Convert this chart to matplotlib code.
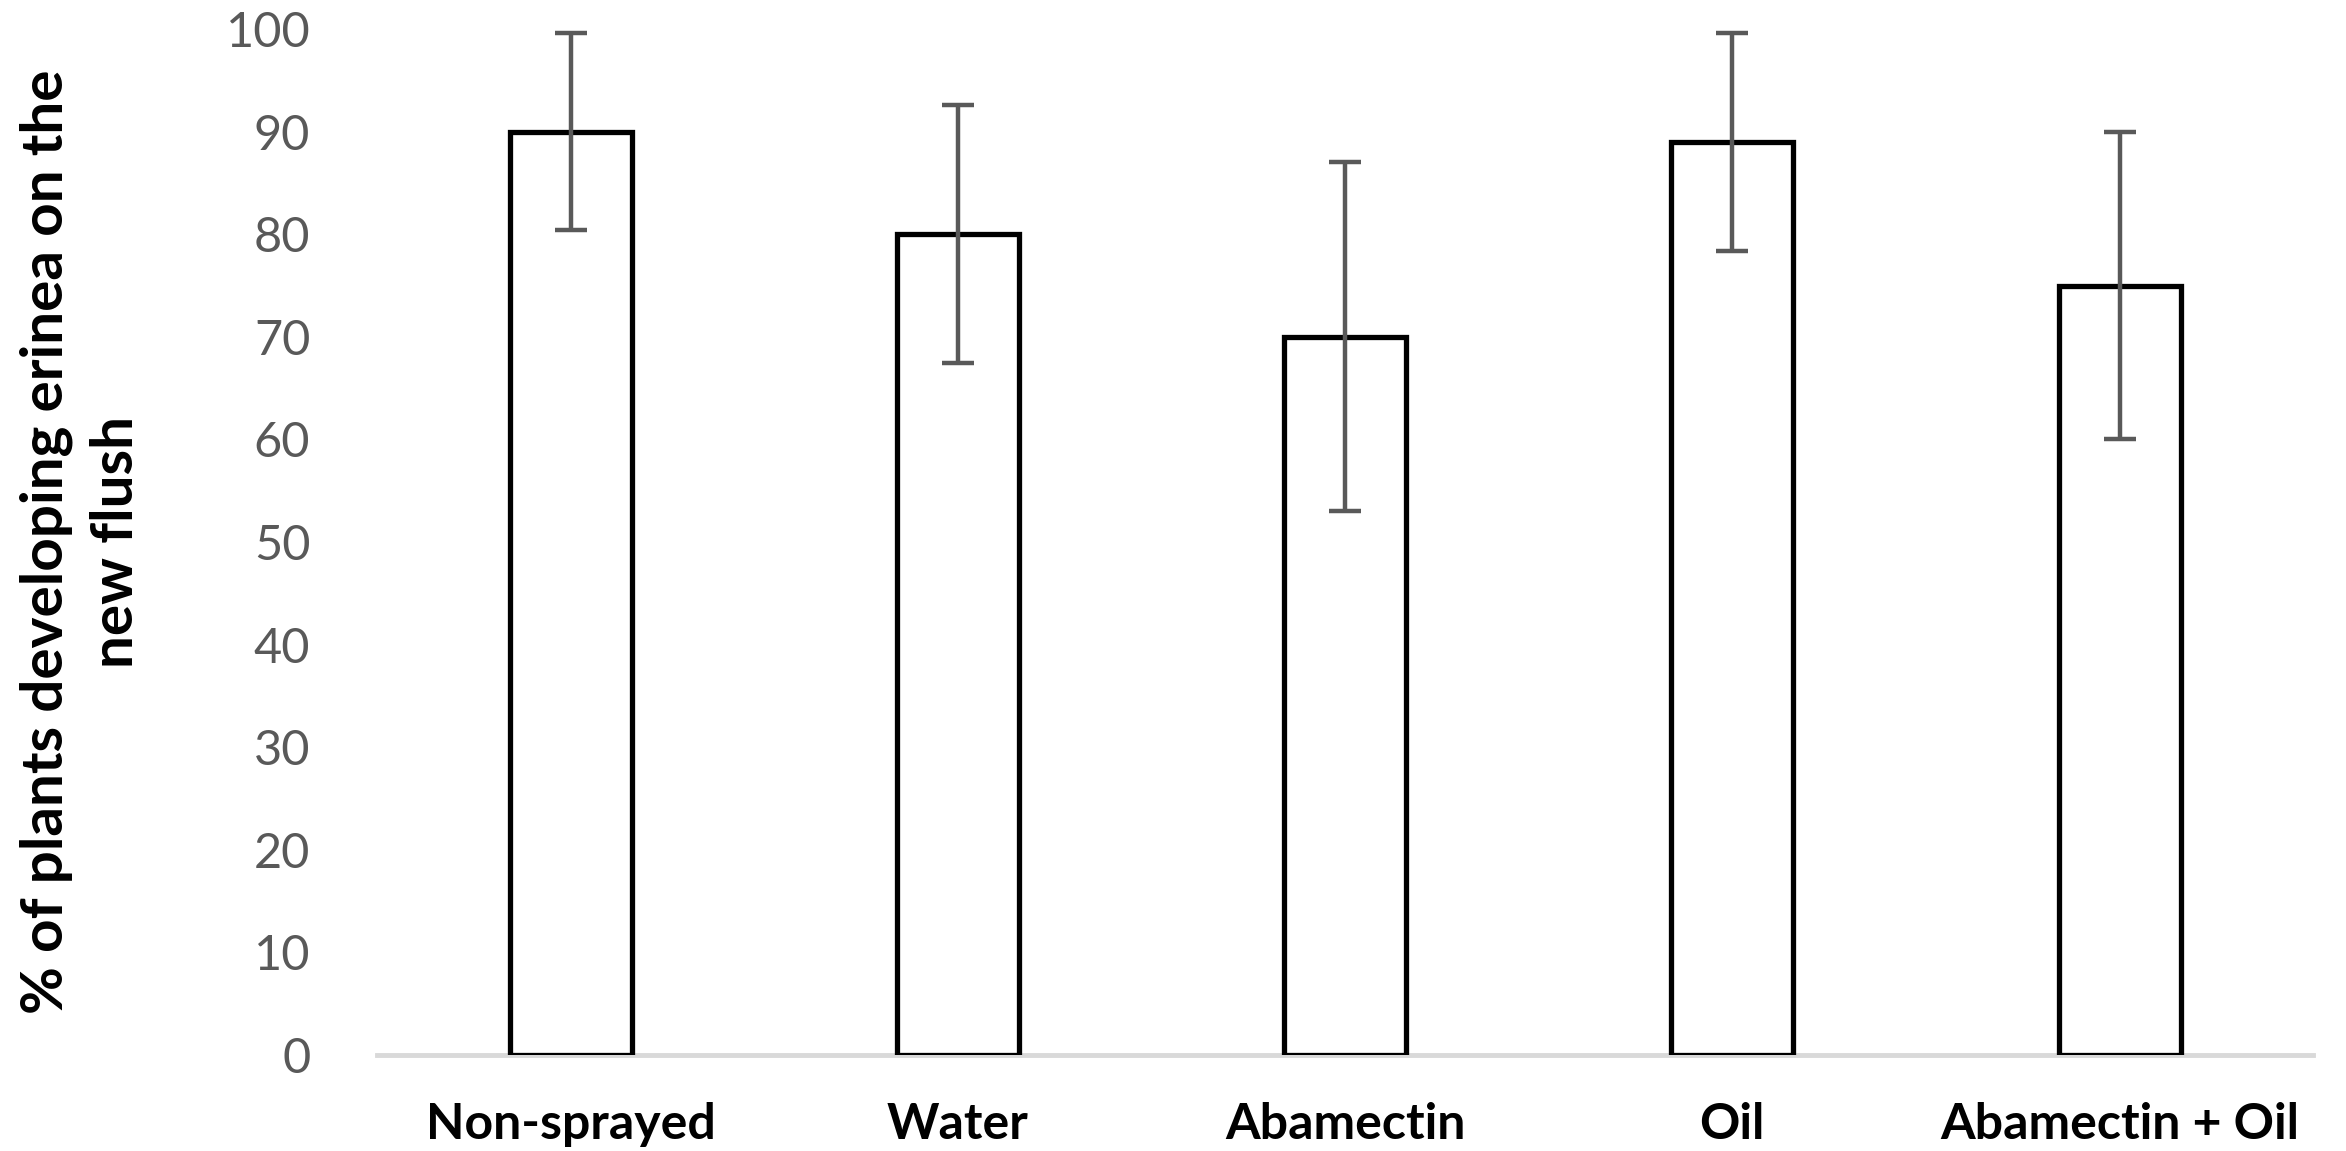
import matplotlib
matplotlib.use("Agg")
import matplotlib.pyplot as plt

categories = ["Non-sprayed", "Water", "Abamectin", "Oil", "Abamectin + Oil"]
values = [90, 80, 70, 89, 75]
errors = [9.6, 12.6, 17, 10.6, 15]
yticks = [0, 10, 20, 30, 40, 50, 60, 70, 80, 90, 100]

plt.rcParams['font.family'] = ['Lato', 'DejaVu Sans']

fig = plt.figure(figsize=(23.46, 11.51), dpi=100)
ax = fig.add_axes([0.1607, 0.0834, 0.8253, 0.8914])

x = list(range(len(categories)))
ax.bar(x, values, width=0.315, color='white', edgecolor='black', linewidth=3.8, zorder=2)
ax.errorbar(x, values, yerr=errors, fmt='none', ecolor='#595959', elinewidth=3.2,
            capsize=11.5, capthick=3.2, zorder=3)

ax.set_xlim(-0.5, len(categories) - 0.5)
ax.set_ylim(0, 100)
ax.set_yticks(yticks)
ax.set_yticklabels([str(t) for t in yticks], fontsize=35, color='#595959')
ax.set_xticks(x)
ax.set_xticklabels(categories, fontsize=36, fontweight='bold', color='black')
ax.tick_params(axis='y', length=0, pad=48)
ax.tick_params(axis='x', length=0, pad=34)

for s in ['top', 'right', 'left']:
    ax.spines[s].set_visible(False)
ax.spines['bottom'].set_color('#d9d9d9')
ax.spines['bottom'].set_linewidth(3.5)
ax.spines['bottom'].set_zorder(1)

ax.set_ylabel("% of plants developing erinea on the\nnew flush", fontsize=42,
              fontweight='bold', color='black', linespacing=1.4)
ax.yaxis.set_label_coords(-0.121, 0.5)

fig.savefig("out.png", dpi=100, facecolor='white')
